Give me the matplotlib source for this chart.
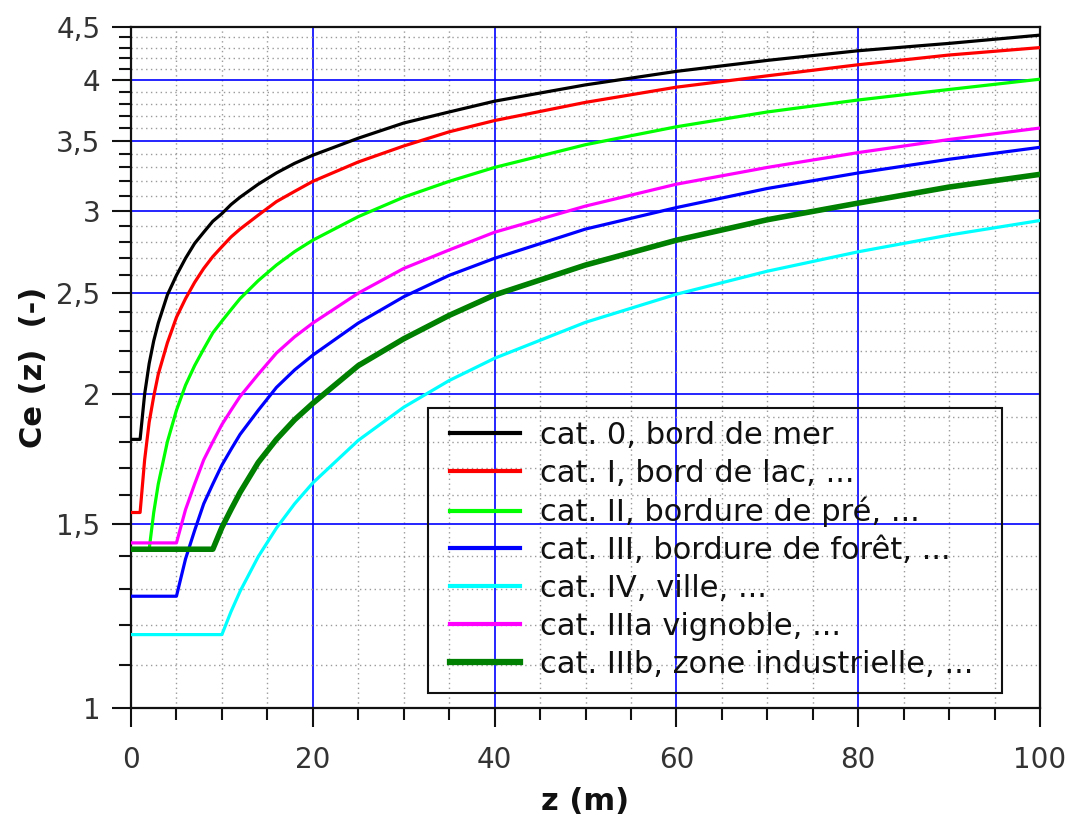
import matplotlib
matplotlib.use("Agg")
import matplotlib.pyplot as plt
from matplotlib.ticker import FixedLocator, FuncFormatter, NullFormatter
from matplotlib.patches import Rectangle
import numpy as np

plt.rcParams['font.family'] = ['DejaVu Sans']

# ---- data ----
z_cat0 = [0, 1, 1.5, 2, 2.5, 3, 4, 5, 6, 7, 8, 9, 10, 11, 12, 14, 16, 18, 20, 25, 30, 35, 40, 50, 60, 70, 80, 90, 100]
ce_cat0 = [1.81, 1.81, 2.00, 2.14, 2.25, 2.34, 2.49, 2.60, 2.70, 2.79, 2.86, 2.93, 2.98, 3.04, 3.09, 3.18, 3.26, 3.33, 3.39,
           3.52, 3.64, 3.73, 3.82, 3.96, 4.08, 4.18, 4.27, 4.34, 4.42]

z_cat1 = [0, 1, 1.5, 2, 2.5, 3, 4, 5, 6, 7, 8, 9, 10, 11, 12, 14, 16, 18, 20, 25, 30, 35, 40, 50, 60, 70, 80, 90, 100]
ce_cat1 = [1.54, 1.54, 1.73, 1.88, 1.99, 2.09, 2.24, 2.37, 2.47, 2.56, 2.64, 2.71, 2.77, 2.83, 2.88, 2.97, 3.06, 3.13, 3.20,
           3.34, 3.46, 3.57, 3.66, 3.81, 3.94, 4.04, 4.14, 4.23, 4.30]

z_cat2 = [0, 2, 2.5, 3, 4, 5, 6, 7, 8, 9, 10, 11, 12, 14, 16, 18, 20, 25, 30, 35, 40, 50, 60, 70, 80, 90, 100]
ce_cat2 = [1.42, 1.42, 1.54, 1.64, 1.80, 1.93, 2.04, 2.13, 2.21, 2.29, 2.35, 2.41, 2.47, 2.57, 2.66, 2.74, 2.81,
           2.96, 3.09, 3.20, 3.30, 3.47, 3.61, 3.73, 3.83, 3.92, 4.01]

z_cat3 = [0, 5, 6, 7, 8, 9, 10, 11, 12, 14, 16, 18, 20, 25, 30, 35, 40, 50, 60, 70, 80, 90, 100]
ce_cat3 = [1.28, 1.28, 1.39, 1.48, 1.57, 1.64, 1.71, 1.77, 1.83, 1.93, 2.03, 2.11, 2.18,
           2.34, 2.48, 2.60, 2.70, 2.88, 3.02, 3.15, 3.26, 3.36, 3.45]

z_cat4 = [0, 10, 11, 12, 14, 16, 18, 20, 25, 30, 35, 40, 50, 60, 70, 80, 90, 100]
ce_cat4 = [1.176, 1.176, 1.237, 1.294, 1.397, 1.488, 1.570, 1.644, 1.806, 1.943, 2.061, 2.165, 2.344, 2.494,
           2.624, 2.739, 2.842, 2.935]

z_cat3a = [0, 5, 6, 7, 8, 9, 10, 11, 12, 14, 16, 18, 20, 25, 30, 35, 40, 50, 60, 70, 80, 90, 100]
ce_cat3a = [1.44, 1.44, 1.55, 1.64, 1.73, 1.80, 1.87, 1.93, 1.99, 2.09, 2.19, 2.27, 2.34,
            2.50, 2.64, 2.75, 2.86, 3.03, 3.18, 3.30, 3.41, 3.51, 3.60]

z_cat3b = [0, 9, 10, 11, 12, 14, 16, 18, 20, 25, 30, 35, 40, 50, 60, 70, 80, 90, 100]
ce_cat3b = [1.42, 1.42, 1.49, 1.55, 1.61, 1.72, 1.81, 1.89, 1.96, 2.13, 2.26, 2.38, 2.49, 2.66, 2.81,
            2.94, 3.05, 3.16, 3.25]

labels = ["cat. 0, bord de mer",
          "cat. I, bord de lac, ...",
          "cat. II, bordure de pré, ...",
          "cat. III, bordure de forêt, ...",
          "cat. IV, ville, ...",
          "cat. IIIa vignoble, ...",
          "cat. IIIb, zone industrielle, ..."]
colors = ["#000000", "#ff0000", "#00ff00", "#0000ff", "#00ffff", "#ff00ff", "#008000"]
widths = [2.3, 2.3, 2.3, 2.3, 2.3, 2.3, 4.0]

series = [(z_cat0, ce_cat0), (z_cat1, ce_cat1), (z_cat2, ce_cat2), (z_cat3, ce_cat3),
          (z_cat4, ce_cat4), (z_cat3a, ce_cat3a), (z_cat3b, ce_cat3b)]

major_y = [1, 1.5, 2, 2.5, 3, 3.5, 4, 4.5]
minor_y = [round(v, 1) for v in np.arange(1.1, 4.45, 0.1) if round(v, 1) not in major_y]
major_x = [0, 20, 40, 60, 80, 100]
minor_x = [5, 10, 15, 25, 30, 35, 45, 50, 55, 65, 70, 75, 85, 90, 95]

W, H = 1070, 816
fig = plt.figure(figsize=(W / 100, H / 100), dpi=100)
ax = fig.add_axes([131 / W, 1 - 708 / H, (1040 - 131) / W, (708 - 27) / H])

for (zz, cc), lab, col, lw in zip(series, labels, colors, widths):
    ax.plot(zz, cc, color=col, lw=lw, label=lab, zorder=3)

ax.set_yscale('log')
ax.set_xlim(0, 100)
ax.set_ylim(1, 4.5)

ax.yaxis.set_major_locator(FixedLocator(major_y))
ax.yaxis.set_minor_locator(FixedLocator(minor_y))
ax.yaxis.set_major_formatter(FuncFormatter(lambda v, p: (f"{v:g}").replace('.', ',')))
ax.yaxis.set_minor_formatter(NullFormatter())
ax.xaxis.set_major_locator(FixedLocator(major_x))
ax.xaxis.set_minor_locator(FixedLocator(minor_x))

ax.grid(which='major', color='#0000ff', lw=1.2, zorder=1)
ax.grid(which='minor', color='#9a9a9a', lw=1.0, ls=(0, (1, 2.5)), zorder=1)

ax.tick_params(which='major', length=14, width=1.5, labelsize=20, labelcolor='#333333', color='#111111')
ax.tick_params(which='minor', length=8.5, width=1.5, color='#111111')
ax.tick_params(axis='y', which='major', pad=8)
ax.tick_params(axis='x', which='major', pad=13)

for s in ax.spines.values():
    s.set_linewidth(1.6)
    s.set_color('#111111')

ax.set_xlabel("z (m)", fontsize=22, fontweight='bold', labelpad=10, color='#111111')
ax.set_ylabel("Ce (z)  (-)", fontsize=22, fontweight='bold', labelpad=6, color='#111111')

# legend box (transparent, grid visible through it)
fig.add_artist(Rectangle((428 / W, 1 - 693 / H), (1002 - 428) / W, (693 - 408) / H,
                         transform=fig.transFigure, fill=False, edgecolor='#111111', lw=1.5, zorder=5))
leg = ax.legend(loc='upper left', bbox_to_anchor=(450 / W, 1 - 421 / H), bbox_transform=fig.transFigure,
                fontsize=22, frameon=False, borderaxespad=0, borderpad=0,
                handlelength=2.3, handletextpad=0.65, labelspacing=0.29)
for h in leg.get_lines():
    h.set_linewidth(3.0 if h.get_color() != "#008000" else 4.5)
for t in leg.get_texts():
    t.set_color('#111111')

fig.savefig("out.png", dpi=100)
